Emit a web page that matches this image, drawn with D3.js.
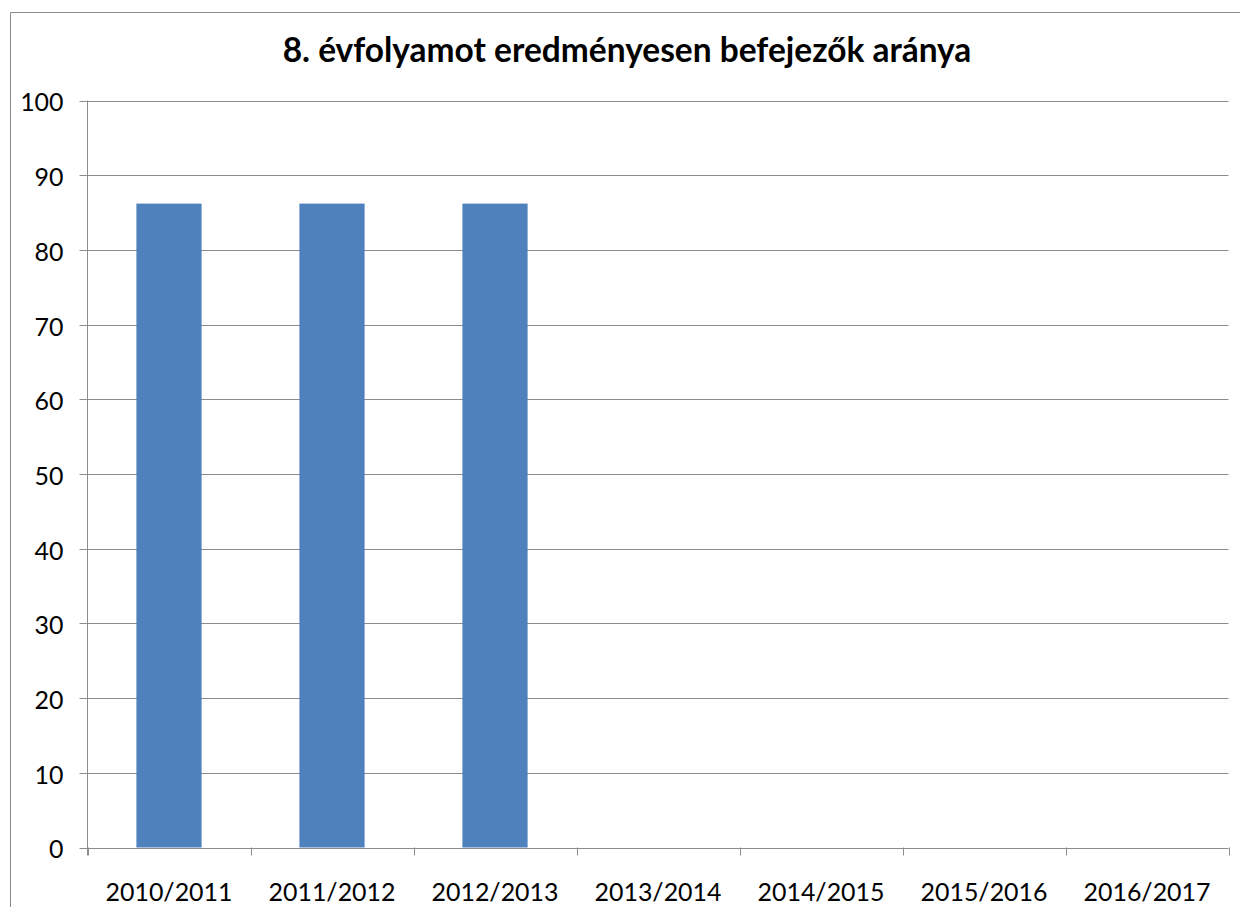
<!DOCTYPE html>
<html>
<head>
<meta charset="utf-8">
<script src="https://cdn.jsdelivr.net/npm/d3@7"></script>
<style>
  body { margin: 0; background: #fff; }
  svg { display: block; }
  text { font-family: Lato, "Open Sans", sans-serif; fill: #000; }
</style>
</head>
<body>
<svg id="chart" width="1240" height="907"></svg>
<script>
// adatok
var categories = ["2010/2011", "2011/2012", "2012/2013", "2013/2014", "2014/2015", "2015/2016", "2016/2017"];
var values = [86.2, 86.2, 86.2, null, null, null, null];
var yTicks = [0, 10, 20, 30, 40, 50, 60, 70, 80, 90, 100];
var title = "8. évfolyamot eredményesen befejezők aránya";

var width = 1240,
    height = 907;
var margin = { top: 100.5, right: 11.5, bottom: 59.5, left: 87.5 };

var svg = d3.select("#chart");

// keret
svg.append("path")
  .attr("d", "M10.5,907 V12.5 H1240")
  .attr("fill", "none")
  .attr("stroke", "#8a8a8a")
  .attr("stroke-width", 1);

var x = d3.scaleBand()
  .domain(categories)
  .range([margin.left, width - margin.right])
  .paddingInner(0.6)
  .paddingOuter(0.3);

var y = d3.scaleLinear()
  .domain([0, 100])
  .range([height - margin.bottom, margin.top]);

// rácsvonalak
svg.append("g")
  .selectAll("line")
  .data(yTicks)
  .enter()
  .append("line")
    .attr("x1", margin.left - 8)
    .attr("x2", width - margin.right)
    .attr("y1", d => Math.round(y(d)) + 0.5)
    .attr("y2", d => Math.round(y(d)) + 0.5)
    .attr("stroke", "#8c8c8c")
    .attr("stroke-width", 1);

// oszlopok
svg.append("g")
  .selectAll("rect")
  .data(categories.map((c, i) => ({ cat: c, val: values[i] })).filter(d => d.val != null))
  .enter()
  .append("rect")
    .attr("x", d => x(d.cat))
    .attr("width", x.bandwidth())
    .attr("y", d => y(d.val))
    .attr("height", d => y(0) - y(d.val))
    .attr("fill", "#4F81BD");

// y tengely
var yAxis = svg.append("g")
  .attr("transform", `translate(${margin.left},0)`)
  .call(d3.axisLeft(y).tickValues(yTicks).tickSize(0).tickPadding(24));
yAxis.select(".domain").attr("stroke", "#8c8c8c").attr("d", `M0,${margin.top}V${height - margin.bottom + 8}`);
yAxis.selectAll("text")
  .attr("dy", "0.42em")
  .style("font-size", "26px")
  .attr("font-family", null);

// x tengely
var step = x.step();
var xAxis = svg.append("g")
  .attr("transform", `translate(0,${y(0)})`)
  .call(d3.axisBottom(x).tickSize(0).tickPadding(53));
xAxis.select(".domain").remove();
xAxis.selectAll("text")
  .attr("dy", 0)
  .style("font-size", "26px")
  .attr("font-family", null);

// x osztásjelek a kategóriák határán
svg.append("g")
  .selectAll("line")
  .data(d3.range(categories.length + 1))
  .enter()
  .append("line")
    .attr("x1", i => Math.round(margin.left + i * (width - margin.left - margin.right) / categories.length) + 0.5)
    .attr("x2", i => Math.round(margin.left + i * (width - margin.left - margin.right) / categories.length) + 0.5)
    .attr("y1", y(0))
    .attr("y2", y(0) + 8)
    .attr("stroke", "#8c8c8c");

// cím
var titleText = svg.append("text")
  .attr("x", 627)
  .attr("y", 62)
  .attr("text-anchor", "middle")
  .style("font-size", "28px")
  .style("font-weight", "bold")
  .text(title);

// betűméret igazítása a mért szélességekhez
function fitFont(sel, target, base) {
  var w = sel.node().getComputedTextLength();
  return base * target / w;
}
titleText.style("font-size", fitFont(titleText, 689, 28) + "px");
var lab = xAxis.select(".tick text");
var fs = fitFont(lab, 127, 26);
xAxis.selectAll("text").style("font-size", fs + "px");
yAxis.selectAll("text").style("font-size", fs + "px");
</script>
</body>
</html>
